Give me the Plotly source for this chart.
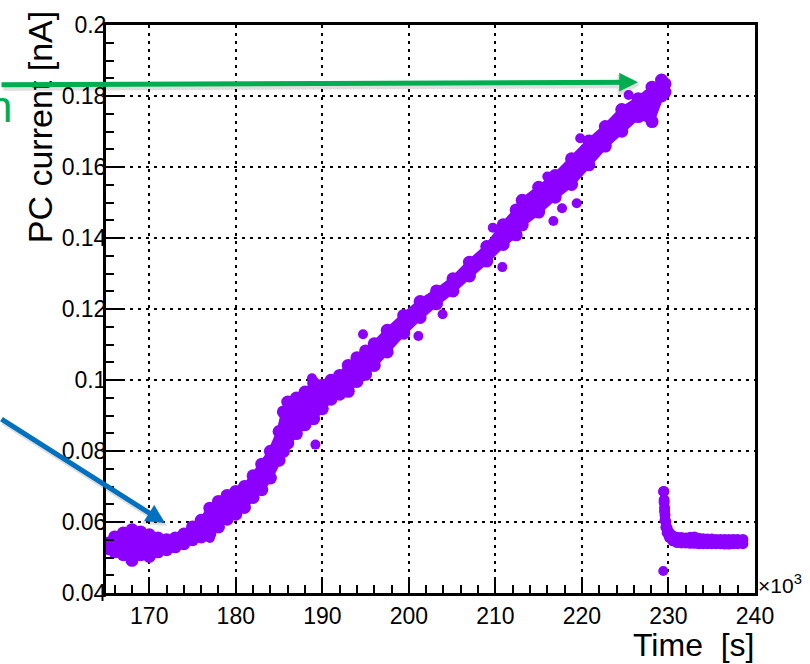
import plotly.graph_objects as go

# ---- photocurrent run: time in units of 10^3 s, current in nA ----
band_t = [165.3, 166.0, 167.0, 168.0, 169.0, 170.0, 171.0, 172.0, 173.0, 174.0,
          175.0, 176.0, 177.0, 178.0, 179.0, 180.0, 181.0, 182.0, 183.0, 184.0,
          185.0, 185.5, 186.0, 187.0, 188.0, 189.0, 190.0, 191.0, 192.0, 193.0,
          194.0, 195.0, 196.0, 197.5, 199.4, 201.3, 203.2, 205.1, 207.0, 209.0,
          210.9, 212.4, 213.1, 215.0, 216.9, 218.8, 220.8, 222.7, 224.6, 226.5,
          228.1, 229.2, 229.6]
band_upper = [0.0541, 0.0558, 0.0569, 0.0578, 0.0572, 0.0564, 0.0555, 0.0550, 0.0555, 0.0566,
              0.0586, 0.0605, 0.0639, 0.0658, 0.0675, 0.0686, 0.0700, 0.0730, 0.0763, 0.0799,
              0.0855, 0.0910, 0.0938, 0.0949, 0.0966, 0.0991, 0.0985, 0.0999, 0.1013, 0.1041,
              0.1063, 0.1082, 0.1102, 0.1140, 0.1182, 0.1221, 0.1251, 0.1285, 0.1332, 0.1376,
              0.1437, 0.1479, 0.1506, 0.1543, 0.1576, 0.1623, 0.1673, 0.1714, 0.1762, 0.1792,
              0.1825, 0.1845, 0.1834]
band_lower = [0.0525, 0.0516, 0.0508, 0.0492, 0.0508, 0.0503, 0.0516, 0.0522, 0.0530, 0.0539,
              0.0550, 0.0558, 0.0566, 0.0586, 0.0608, 0.0622, 0.0641, 0.0669, 0.0691, 0.0724,
              0.0774, 0.0799, 0.0822, 0.0849, 0.0874, 0.0891, 0.0919, 0.0946, 0.0960, 0.0968,
              0.0996, 0.1016, 0.1041, 0.1079, 0.1132, 0.1176, 0.1215, 0.1251, 0.1293, 0.1335,
              0.1382, 0.1409, 0.1437, 0.1473, 0.1515, 0.1551, 0.1606, 0.1659, 0.1701, 0.1742,
              0.1728, 0.1800, 0.1811]

# isolated readings away from the main band
single_t = [177.0, 188.8, 189.2, 194.7, 201.1, 203.9, 209.7, 210.8, 216.0, 216.7,
            217.7, 219.4, 219.8, 225.4, 229.4]
single_v = [0.0555, 0.1005, 0.0818, 0.1129, 0.1124, 0.1185, 0.1429, 0.1318, 0.1573, 0.1448,
            0.1484, 0.1498, 0.1681, 0.1803, 0.0462]

# relaxation after the source is switched off
tail_t = [229.45, 229.5, 229.55, 229.6, 229.7, 229.85, 230.1, 230.5, 231.0, 231.5,
          232.0, 232.5, 233.0, 233.5, 234.0, 234.5, 235.0, 235.5, 236.0, 236.5,
          237.0, 237.5, 238.0, 238.6]
tail_upper = [0.0686, 0.0662, 0.0640, 0.0620, 0.0600, 0.0583, 0.0570, 0.0561, 0.0557, 0.0556,
              0.0555, 0.0557, 0.0558, 0.0554, 0.0553, 0.0552, 0.0552, 0.0551, 0.0551, 0.0551,
              0.0551, 0.0551, 0.0551, 0.0551]
tail_lower = [0.0686, 0.0655, 0.0630, 0.0605, 0.0585, 0.0570, 0.0557, 0.0547, 0.0542, 0.0541,
              0.0541, 0.0540, 0.0540, 0.0539, 0.0539, 0.0539, 0.0539, 0.0539, 0.0539, 0.0538,
              0.0538, 0.0539, 0.0539, 0.0539]

x_ticks = [170, 180, 190, 200, 210, 220, 230, 240]
x_labels = ["170", "180", "190", "200", "210", "220", "230", "240"]
y_ticks = [0.04, 0.06, 0.08, 0.10, 0.12, 0.14, 0.16, 0.18, 0.20]
y_labels = ["0.04", "0.06", "0.08", "0.1", "0.12", "0.14", "0.16", "0.18", "0.2"]

PURPLE = "#8b00ff"
FONT = "Liberation Sans"
EDGE_SIZE = 13
DOT_SIZE = 10

fig = go.Figure()


def add_band(ts, up, lo, edge_size, outline):
    # filled body of the point cloud
    fig.add_trace(go.Scatter(
        x=ts + ts[::-1], y=up + lo[::-1], mode="lines", fill="toself",
        fillcolor=PURPLE, line=dict(color=PURPLE, width=outline), hoverinfo="skip"))
    # round dots along both edges
    for vals in (up, lo):
        fig.add_trace(go.Scatter(
            x=ts, y=vals, mode="markers",
            marker=dict(color=PURPLE, size=edge_size, line=dict(width=0)), hoverinfo="skip"))


add_band(band_t, band_upper, band_lower, EDGE_SIZE, 5)
add_band(tail_t, tail_upper, tail_lower, 11, 3)
fig.add_trace(go.Scatter(
    x=single_t, y=single_v, mode="markers",
    marker=dict(color=PURPLE, size=DOT_SIZE, line=dict(width=0)), hoverinfo="skip"))

axis_common = dict(
    showline=True, linewidth=3, linecolor="black", mirror=True,
    ticks="inside", tickwidth=2, tickcolor="black",
    showgrid=True, gridcolor="black", gridwidth=2, griddash="3px,5px",
    zeroline=False, tickmode="array",
    tickfont=dict(family=FONT, size=23, color="black"),
)

fig.update_xaxes(
    range=[165, 240], tickvals=x_ticks, ticktext=x_labels, ticklen=15,
    minor=dict(dtick=2, ticklen=8, tickwidth=2, tickcolor="black",
               ticks="inside", showgrid=False),
    **axis_common)
fig.update_yaxes(
    range=[0.04, 0.2], tickvals=y_ticks, ticktext=y_labels, ticklen=17,
    ticklabelstandoff=-8,
    minor=dict(dtick=0.005, ticklen=8, tickwidth=2, tickcolor="black",
               ticks="inside", showgrid=False),
    **axis_common)

L, R, T, B = 106, 55, 16, 71
W, H = 810, 664
PW, PH = W - L - R, H - T - B


def px_x(p):
    return (p - L) / PW


def px_y(p):
    return 1 - (p - T) / PH


annotations = [
    # axis titles
    dict(text="PC current [nA]", textangle=-90, xref="paper", yref="paper",
         x=px_x(40), y=px_y(0), xanchor="center", yanchor="top", showarrow=False,
         font=dict(family=FONT, size=34, color="black")),
    dict(text="Time\u00a0\u00a0[s]", xref="paper", yref="paper",
         x=px_x(756), y=px_y(646), xanchor="right", yanchor="middle", showarrow=False,
         font=dict(family=FONT, size=32, color="black")),
    dict(text="\u00d710<sup>3</sup>", xref="paper", yref="paper",
         x=px_x(756), y=px_y(584), xanchor="left", yanchor="middle", showarrow=False,
         font=dict(family=FONT, size=21, color="black")),
    # green label fragment at the left edge
    dict(text="n", xref="paper", yref="paper",
         x=px_x(-14), y=px_y(99), xanchor="left", yanchor="middle", showarrow=False,
         font=dict(family=FONT, size=44, color="#00ad50")),
]

arrows = [
    dict(x=226.48, y=0.1839, ax=-700, ay=2.5, color="#00ad50"),
    dict(x=171.82, y=0.0597, ax=-170, ay=-105, color="#0070c0"),
]
for a in arrows:
    # soft drop shadow under each pointer
    annotations.append(dict(
        x=a["x"], y=a["y"], ax=a["ax"], ay=a["ay"], xref="x", yref="y",
        text="", showarrow=True, arrowhead=2, arrowsize=0.75, arrowwidth=6,
        arrowcolor="rgba(0,0,0,0.13)", xshift=2, yshift=-3, standoff=0))
for a in arrows:
    annotations.append(dict(
        x=a["x"], y=a["y"], ax=a["ax"], ay=a["ay"], xref="x", yref="y",
        text="", showarrow=True, arrowhead=2, arrowsize=0.75, arrowwidth=5,
        arrowcolor=a["color"], standoff=0))

fig.update_layout(
    width=W, height=H,
    margin=dict(l=L, r=R, t=T, b=B, pad=0),
    paper_bgcolor="white", plot_bgcolor="white",
    showlegend=False, annotations=annotations,
    font=dict(family=FONT, color="black"),
)

fig.write_html("out.html")
